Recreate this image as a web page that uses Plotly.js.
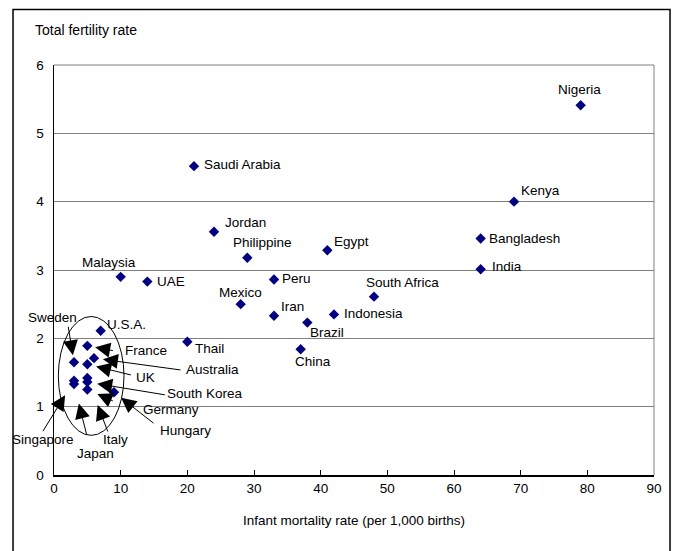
<!DOCTYPE html>
<html>
<head>
<meta charset="utf-8">
<script src="https://cdn.plot.ly/plotly-3.0.1.min.js"></script>
<style>html,body{margin:0;padding:0;background:#fff;}#chart{width:674px;height:551px;}</style>
</head>
<body>
<div id="chart"></div>
<script>
// ---- data ----
const countries = ["Nigeria","Kenya","Bangladesh","India","Saudi Arabia","Jordan","Philippine","Egypt","Peru","South Africa","Mexico","Iran","Indonesia","Brazil","Thail","China","Malaysia","UAE","U.S.A.","Sweden","France","Australia","UK","South Korea","Germany","Hungary","Singapore","Japan","Italy"];
const infantMortality = [79,69,64,64,21,24,29,41,33,48,28,33,42,38,20,37,10,14,7,3,5,6,5,5,5,9,3,3,5];
const fertility = [5.41,4.0,3.46,3.01,4.52,3.56,3.18,3.29,2.86,2.61,2.50,2.33,2.35,2.23,1.95,1.84,2.90,2.83,2.11,1.65,1.89,1.71,1.62,1.36,1.25,1.21,1.38,1.33,1.42];
const xTicks = [0,10,20,30,40,50,60,70,80,90];
const yTicks = [0,1,2,3,4,5,6];

// ---- label placement (pixels, relative to point; y down) ----
const labelDx = [-1,26,44,26,48,31,15,24,22,28,0,18,39,20,22,12,-12,23.5,26,-22,59,118,58,118,84,71,-31,21,28];
const labelDy = [-16,-11,0,-3,-2,-9,-15,-9,-1,-14,-12,-9,-1,10,7,12,-14,0,-6,-45,5,11,13,11,20,38,59,69,62];
// arrows: [tailDx, tailDy, standoff]
const arrows = {
  "Sweden":[-6,-37,7], "France":[27,5,8], "Australia":[88,12,9], "UK":[45,11,9],
  "South Korea":[79,13,10], "Germany":[27,12,11], "Hungary":[41,32,9],
  "Singapore":[-32,52,17], "Japan":[13,52,20], "Italy":[21,55,29]
};

const FONT = "Liberation Sans, Arial, sans-serif";
const annotations = [];
countries.forEach((c,i)=>{
  annotations.push({
    x: infantMortality[i], y: fertility[i], xref:'x', yref:'y',
    text: c, showarrow:false, xanchor:'center', yanchor:'middle',
    xshift: labelDx[i], yshift: -labelDy[i],
    font:{family:FONT, size:13.5, color:'#000'}
  });
  if (arrows[c]) {
    const a = arrows[c];
    annotations.push({
      x: infantMortality[i], y: fertility[i], xref:'x', yref:'y',
      text:'', showarrow:true, ax:a[0], ay:a[1], standoff:a[2],
      arrowhead:2, arrowsize:3.0, arrowwidth:1, arrowcolor:'#000'
    });
  }
});
annotations.push({
  xref:'paper', yref:'paper', x:-0.035, y:1.085, xanchor:'left', yanchor:'middle',
  text:'Total fertility rate', showarrow:false, font:{family:FONT, size:14, color:'#000'}
});

const shapes = [
  {type:'rect', xref:'paper', yref:'paper', x0:-0.0683, x1:1.0267, y0:-0.25, y1:1.1354,
   line:{color:'#000', width:1.5}, fillcolor:'rgba(0,0,0,0)'},
  {type:'line', xref:'paper', yref:'paper', x0:0, x1:1, y0:1, y1:1, line:{color:'#808080', width:1}},
  {type:'line', xref:'paper', yref:'paper', x0:1, x1:1, y0:0, y1:1, line:{color:'#808080', width:1}},
  {type:'circle', xref:'x', yref:'y', x0:0.65, x1:10.5, y0:0.58, y1:2.32, line:{color:'#000', width:1}}
];

const trace = {
  type:'scatter', mode:'markers', x: infantMortality, y: fertility, text: countries,
  marker:{symbol:'diamond', size:8, color:'#000080'}, hoverinfo:'text', cliponaxis:false
};

const layout = {
  width:674, height:551,
  margin:{l:54, r:20, t:65, b:76, pad:0},
  paper_bgcolor:'#fff', plot_bgcolor:'#fff',
  showlegend:false,
  font:{family:FONT, size:13, color:'#000'},
  xaxis:{
    range:[0,90], tickvals:xTicks, ticktext:xTicks.map(String),
    showgrid:false, zeroline:false, showline:true, linecolor:'#000', linewidth:1.5,
    ticks:'inside', ticklen:5, tickcolor:'#000', tickwidth:1,
    tickfont:{family:FONT, size:13.5},
    title:{text:'Infant mortality rate (per 1,000 births)', font:{family:FONT, size:13.5}, standoff:21},
    fixedrange:true
  },
  yaxis:{
    range:[0,6], tickvals:yTicks, ticktext:yTicks.map(String),
    showgrid:true, gridcolor:'#808080', gridwidth:1,
    zeroline:false, showline:true, linecolor:'#000', linewidth:1.5,
    ticks:'', tickfont:{family:FONT, size:13.5}, ticklabelstandoff:6,
    fixedrange:true
  },
  annotations: annotations,
  shapes: shapes
};

Plotly.newPlot('chart', [trace], layout, {displayModeBar:false, staticPlot:true});
</script>
</body>
</html>
